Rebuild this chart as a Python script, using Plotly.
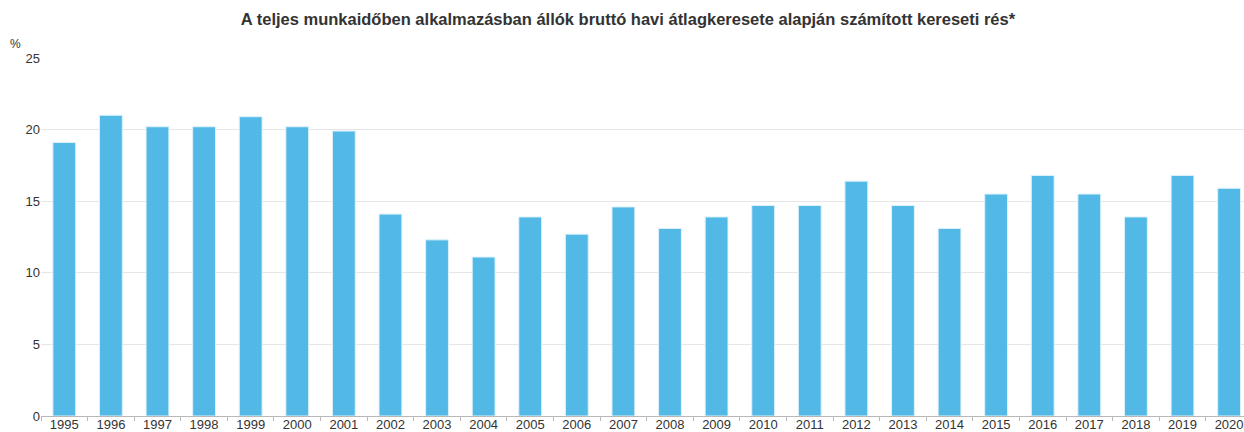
import plotly.graph_objects as go

years = [str(y) for y in range(1995, 2021)]
values = [19.1, 21.0, 20.2, 20.2, 20.9, 20.2, 19.9, 14.1, 12.3, 11.1, 13.9, 12.7, 14.6,
          13.1, 13.9, 14.7, 14.7, 16.4, 14.7, 13.1, 15.5, 16.8, 15.5, 13.9, 16.8, 15.9]
y_ticks = [0, 5, 10, 15, 20, 25]
title_text = "A teljes munkaidőben alkalmazásban állók bruttó havi átlagkeresete alapján számított kereseti rés*"
unit_label = "%"

W, H = 1244, 432
ml, mr, mt, mb = 41, 0, 58, 16

fig = go.Figure(go.Bar(
    x=years, y=values,
    marker=dict(color="#52B9E7", line=dict(color="#DDF1FA", width=1)),
    width=0.49,
))

fig.update_layout(
    width=W, height=H,
    margin=dict(l=ml, r=mr, t=mt, b=mb, autoexpand=False),
    paper_bgcolor="white", plot_bgcolor="white",
    font=dict(family="Arial", size=13, color="#333333"),
    showlegend=False,
    title=dict(text="<b>" + title_text + "</b>", x=628 / W, xanchor="center",
               y=1 - 19 / H, yanchor="middle", xref="container", yref="container",
               font=dict(family="Arial", size=16.5, color="#333333")),
)

fig.update_xaxes(
    type="category", range=[-0.5, 25.32],
    showline=True, linecolor="#B8B8B8", linewidth=1,
    ticks="outside", tickson="boundaries", ticklen=4, tickcolor="#B8B8B8",
    ticklabelstandoff=-4,
    showgrid=False, automargin=False,
    tickfont=dict(family="Arial", size=13, color="#333333"),
)
fig.update_yaxes(
    range=[0, 25], tickvals=y_ticks, showgrid=True, gridcolor="#E6E6E6", gridwidth=1,
    zeroline=False, showline=False, ticks="", automargin=False,
    tickfont=dict(family="Arial", size=13, color="#333333"),
)

fig.add_annotation(
    text=unit_label, xref="paper", yref="paper",
    x=(15 - ml) / (W - ml - mr), y=1 + (mt - 44) / (H - mt - mb),
    showarrow=False, xanchor="center", yanchor="middle",
    font=dict(family="Arial", size=12, color="#333333"),
)

fig.write_html(
    "out.html",
    config={"displayModeBar": False},
    post_script="document.body.style.margin='0';document.body.style.overflow='hidden';",
)
